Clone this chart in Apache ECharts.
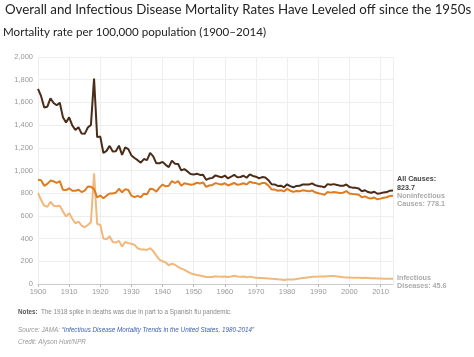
<!DOCTYPE html>
<html><head><meta charset="utf-8">
<script src="https://cdn.jsdelivr.net/npm/echarts@6/dist/echarts.min.js"></script>
<style>html,body{margin:0;padding:0;background:#fff}#c{width:474px;height:357px}</style>
</head><body><div id="c"></div>
<script>
const startYear = 1900;
const allCauses = [1719,1655,1555,1562,1636,1595,1575,1597,1470,1423,1468,1397,1357,1381,1325,1323,1379,1402,1810,1294,
1299,1154,1173,1217,1167,1170,1219,1138,1204,1188,1133,1110,1091,1069,1101,1091,1155,1125,1063,1064,
1076,1050,1030,1087,1060,1057,1001,1012,992,969,964,972,961,963,918,930,935,957,947,940,
955,930,945,962,940,943,954,936,966,952,945,930,942,939,915,879,877,864,866,852,
878,862,852,864,865,877,877,876,887,871,864,860,853,880,875,880,873,865,865,877,
854,849,847,842,817,826,810,804,813,795,800,807,810,822,823.7];
const noninfectious = [919,915,865,882,911,905,890,907,830,828,843,822,822,831,810,823,859,857,835,764,
779,756,778,797,797,805,839,808,834,828,778,765,776,764,796,791,840,835,813,849,
876,860,865,907,890,907,866,887,882,874,879,892,886,895,856,868,873,889,882,877,
888,868,879,890,874,879,888,876,901,892,889,878,890,889,867,833,832,822,826,816,
838,822,812,820,817,825,821,816,824,808,799,794,786,811,805,810,806,802,805,819,
797,793,791,787,764,772,758,754,762,746,752,760,764,776,778.1];
const infectious = [800,740,690,680,725,690,685,690,640,595,625,575,535,550,515,500,520,545,975,530,
520,400,395,420,370,365,380,330,370,360,355,345,315,305,305,300,315,290,250,215,
200,190,165,180,170,150,135,125,110,95,85,80,75,68,62,62,62,68,65,63,
67,62,66,72,66,64,66,60,65,60,56,52,52,50,48,46,45,42,40,36,
40,40,40,44,48,52,56,60,63,63,65,66,67,69,70,70,67,63,60,58,
57,56,56,55,53,54,52,50,51,49,48,47,46,46,45.6];
const seriesNames = ['All Causes', 'Noninfectious Causes', 'Infectious Diseases'];
const endLabelLines = [['All Causes:', ''], ['Noninfectious', 'Causes: '], ['Infectious', 'Diseases: ']];

const pts = arr => arr.map((v, i) => [startYear + i, v]);
const chart = echarts.init(document.getElementById('c'), null, {renderer: 'canvas'});
const fmt = v => v.toLocaleString('en-US');
const labFont = {fontFamily: 'Liberation Sans, Arial, sans-serif', fontSize: 7.2, fontWeight: 'bold', lineHeight: 8.3};
const noteFont = 'Liberation Sans, Arial';

function mk(name, data, color, labColor, offY, lines) {
  return {
    name: name, type: 'line', data: pts(data), showSymbol: false, symbol: 'none',
    lineStyle: {color: color, width: 2}, itemStyle: {color: color},
    emphasis: {disabled: true}, animation: false,
    endLabel: {
      show: true, distance: 4, offset: [0, offY], align: 'left', verticalAlign: 'middle',
      color: labColor, ...labFont,
      formatter: p => lines[0] + '\n' + lines[1] + p.value[1]
    }
  };
}

chart.setOption({
  animation: false,
  title: [
    {text: 'Overall and Infectious Disease Mortality Rates Have Leveled off since the 1950s',
     left: 5, top: 3, padding: 0, textStyle: {fontFamily: 'Lato', fontWeight: 'normal', fontSize: 13.3, color: '#222'}},
    {text: 'Mortality rate per 100,000 population (1900–2014)',
     left: 3, top: 26, padding: 0, textStyle: {fontFamily: 'Lato', fontWeight: 'normal', fontSize: 11.6, color: '#222'}}
  ],
  grid: {left: 38, right: 81, top: 57, bottom: 73},
  xAxis: {
    type: 'value', min: 1900, max: 2014, interval: 10,
    axisLine: {show: true, lineStyle: {color: '#ccc'}},
    axisTick: {show: true, length: 3, lineStyle: {color: '#bbb'}},
    axisLabel: {color: '#999', fontSize: 7.5, margin: 4, fontFamily: 'Liberation Sans, Arial', formatter: v => String(v)},
    splitLine: {show: true, lineStyle: {color: '#eee', width: 1}}
  },
  yAxis: {
    type: 'value', min: 0, max: 2000, interval: 200,
    axisLine: {show: false}, axisTick: {show: false},
    axisLabel: {color: '#999', fontSize: 7.5, margin: 5, fontFamily: 'Liberation Sans, Arial', formatter: v => fmt(v)},
    splitLine: {show: true, lineStyle: {color: '#eee', width: 1}}
  },
  series: [
    mk(seriesNames[2], infectious, '#f1b87c', '#aaa', 3, endLabelLines[2]),
    mk(seriesNames[1], noninfectious, '#e07c20', '#aaa', 4, endLabelLines[1]),
    mk(seriesNames[0], allCauses, '#4a2c18', '#444', -7, endLabelLines[0])
  ],
  graphic: [
    {type: 'text', left: 18, top: 306, style: {
      text: '{b|Notes:} {n|The 1918 spike in deaths was due in part to a Spanish flu pandemic.}',
      rich: {b: {fontWeight: 'bold', fill: '#555', fontSize: 6.3, fontFamily: noteFont},
             n: {fill: '#888', fontSize: 6.3, fontFamily: noteFont}}}},
    {type: 'text', left: 18, top: 327, style: {
      text: '{s|Source: JAMA: }{l|“Infectious Disease Mortality Trends in the United States, 1980-2014”}',
      rich: {s: {fill: '#999', fontSize: 6.3, fontStyle: 'italic', fontFamily: noteFont},
             l: {fill: '#3f5fb0', fontSize: 6.3, fontStyle: 'italic', fontFamily: noteFont}}}},
    {type: 'text', left: 18, top: 339, style: {
      text: 'Credit: Alyson Hurt/NPR', fill: '#999', fontSize: 6.3, fontStyle: 'italic', fontFamily: noteFont}}
  ]
});
</script></body></html>
